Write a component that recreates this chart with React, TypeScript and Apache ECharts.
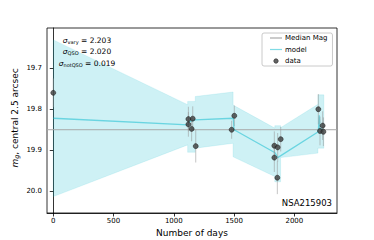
import React, { useEffect, useRef } from 'react';
import * as echarts from 'echarts';

const FONT = 'DejaVu Sans';

const xTicks = [0, 500, 1000, 1500, 2000];
const yTicks = [19.7, 19.8, 19.9, 20.0];

const days = [0, 1121, 1157, 1121, 1148, 1182, 1502, 1480, 1834, 1887, 1862, 1834, 1859, 2199, 2235, 2213, 2241];
const mags = [19.760, 19.824, 19.823, 19.837, 19.848, 19.890, 19.816, 19.850, 19.889, 19.873, 19.893, 19.918, 19.967, 19.800, 19.840, 19.853, 19.855];
const errs = [0.035, 0.03, 0.03, 0.03, 0.03, 0.04, 0.025, 0.022, 0.035, 0.03, 0.035, 0.035, 0.04, 0.037, 0.035, 0.035, 0.035];

const modelDays = [0, 1118, 1130, 1176, 1494, 1500, 1840, 1862, 2199, 2206, 2213, 2241];
const modelMags = [19.822, 19.838, 19.830, 19.826, 19.822, 19.850, 19.906, 19.918, 19.855, 19.815, 19.848, 19.850];

const bandDays = [0, 1115, 1115, 1178, 1178, 1492, 1492, 1838, 1838, 1886, 1886, 2196, 2196, 2245];
const bandUpper = [19.631, 19.789, 19.781, 19.781, 19.769, 19.758, 19.790, 19.846, 19.840, 19.840, 19.845, 19.788, 19.765, 19.765];
const bandLower = [20.013, 19.887, 19.905, 19.905, 19.895, 19.883, 19.916, 19.964, 19.977, 19.977, 19.918, 19.907, 19.895, 19.895];

const medianMag = 19.85;
const xRange = [-52, 2354];
const yRange = [19.602, 20.053];

const sigmaLabels = ['vary', 'QSO', 'notQSO'];
const sigmaValues = ['2.203', '2.020', '0.019'];
const objectName = 'NSA215903';

const MEDIAN_COLOR = '#a8a8a8';
const MODEL_COLOR = 'rgba(23,190,207,0.55)';
const LINE_ICON = 'path://M0,0H12V1.2H0Z';

export default function App() {
  const ref = useRef<HTMLDivElement>(null);
  useEffect(() => {
    const chart = echarts.init(ref.current!, null, { renderer: 'svg' });
    const rich = {
      i: { fontSize: 7.5, fontStyle: 'italic', fontFamily: FONT, color: '#000' },
      s: { fontSize: 5, fontFamily: FONT, color: '#000', padding: [3, 0, 0, 0] },
      n: { fontSize: 7.5, fontFamily: FONT, color: '#000' },
    };
    const sigmaGraphics = sigmaLabels.map((lab, k) => ({
      type: 'text',
      x: 87,
      y: 40 + k * 11.7,
      z: 100,
      style: {
        text: `{i|σ}{s|${lab}}{n| = ${sigmaValues[k]}}`,
        rich,
        align: 'center',
        verticalAlign: 'middle',
      },
    }));
    const option: any = {
      animation: false,
      grid: {
        left: 47, right: 37, top: 28, bottom: 27,
        show: true, borderColor: '#000', borderWidth: 0.8,
      },
      xAxis: {
        type: 'value',
        min: xRange[0], max: xRange[1],
        axisLine: { show: true, lineStyle: { color: '#000', width: 0.8 } },
        axisTick: { show: true, length: 3.5, lineStyle: { color: '#000', width: 0.8 }, customValues: xTicks },
        axisLabel: {
          customValues: xTicks, fontSize: 7, fontFamily: FONT, color: '#000', margin: 4,
          formatter: (v: number) => String(Math.round(v)),
        },
        splitLine: { show: false },
      },
      yAxis: {
        type: 'value',
        inverse: true,
        min: yRange[0], max: yRange[1],
        axisLine: { show: true, lineStyle: { color: '#000', width: 0.8 } },
        axisTick: { show: true, length: 3.5, lineStyle: { color: '#000', width: 0.8 }, customValues: yTicks },
        axisLabel: {
          customValues: yTicks, fontSize: 7, fontFamily: FONT, color: '#000', margin: 5,
          formatter: (v: number) => v.toFixed(1),
        },
        splitLine: { show: false },
      },
      legend: {
        orient: 'vertical',
        left: 262, top: 33,
        itemWidth: 12, itemHeight: 4.5, itemGap: 4.5,
        padding: [1.5, 5, 1.5, 8],
        borderColor: '#bdbdbd', borderWidth: 0.8, borderRadius: 2,
        backgroundColor: 'rgba(255,255,255,0.8)',
        textStyle: { fontSize: 7, fontFamily: FONT, color: '#000', padding: [0, 0, 0, -2] },
        data: [
          { name: 'Median Mag', icon: LINE_ICON, itemStyle: { color: MEDIAN_COLOR } },
          { name: 'model', icon: LINE_ICON, itemStyle: { color: MODEL_COLOR } },
          { name: 'data', icon: 'circle', itemStyle: { color: '#3d3d3d', borderColor: '#111', borderWidth: 0.6 } },
        ],
      },
      graphic: [
        ...sigmaGraphics,
        {
          type: 'text', x: 332, y: 203, z: 100,
          style: { text: objectName, fontSize: 8.5, fontFamily: FONT, fill: '#000', align: 'right', verticalAlign: 'middle' },
        },
        {
          type: 'text', x: 192, y: 232.5, z: 100,
          style: { text: 'Number of days', fontSize: 9, fontFamily: FONT, fill: '#000', align: 'center', verticalAlign: 'middle' },
        },
        {
          type: 'text', x: 15, y: 118, z: 100, rotation: Math.PI / 2,
          style: {
            text: '{i|m}{s|g}{n|, central 2.5 arcsec}',
            rich: {
              i: { fontSize: 9, fontStyle: 'italic', fontFamily: FONT, color: '#000' },
              s: { fontSize: 6.5, fontStyle: 'italic', fontFamily: FONT, color: '#000', padding: [4, 0, 0, 0] },
              n: { fontSize: 9, fontFamily: FONT, color: '#000' },
            },
            align: 'center', verticalAlign: 'middle',
          },
        },
      ],
      series: [
        {
          type: 'custom',
          name: 'band',
          z: 1,
          silent: true,
          data: bandDays.map((d, i) => [d, bandUpper[i], bandLower[i]]),
          encode: { x: 0, y: [1, 2] },
          renderItem: (params: any, api: any) => {
            if (params.dataIndex !== 0) return null;
            const top = bandDays.map((d, i) => api.coord([d, bandUpper[i]]));
            const bot = bandDays.map((d, i) => api.coord([d, bandLower[i]])).reverse();
            return {
              type: 'polygon',
              shape: { points: top.concat(bot) },
              style: { fill: 'rgba(23,190,207,0.21)', stroke: 'rgba(23,190,207,0.2)', lineWidth: 0.6 },
            };
          },
        },
        {
          type: 'line',
          name: 'Median Mag',
          z: 2,
          data: [[xRange[0], medianMag], [xRange[1], medianMag]],
          symbol: 'none',
          lineStyle: { color: MEDIAN_COLOR, width: 1 },
          itemStyle: { color: MEDIAN_COLOR },
        },
        {
          type: 'line',
          name: 'model',
          z: 3,
          data: modelDays.map((d, i) => [d, modelMags[i]]),
          symbol: 'none',
          lineStyle: { color: MODEL_COLOR, width: 1.3 },
          itemStyle: { color: MODEL_COLOR },
        },
        {
          type: 'custom',
          name: 'errors',
          z: 4,
          silent: true,
          data: days.map((d, i) => [d, mags[i], errs[i]]),
          encode: { x: 0, y: 1 },
          renderItem: (params: any, api: any) => {
            const d = api.value(0), m = api.value(1), e = api.value(2);
            const p1 = api.coord([d, m - e]);
            const p2 = api.coord([d, m + e]);
            return {
              type: 'line',
              shape: { x1: p1[0], y1: p1[1], x2: p2[0], y2: p2[1] },
              style: { stroke: 'rgba(150,150,150,0.55)', lineWidth: 1 },
            };
          },
        },
        {
          type: 'scatter',
          name: 'data',
          z: 5,
          data: days.map((d, i) => [d, mags[i]]),
          symbol: 'circle',
          symbolSize: 5,
          itemStyle: { color: '#3d3d3d', borderColor: '#111', borderWidth: 0.6 },
        },
      ],
    };
    chart.setOption(option);
    return () => chart.dispose();
  }, []);
  return <div ref={ref} style={{ position: 'absolute', left: 0, top: 0, width: 374, height: 240 }} />;
}
